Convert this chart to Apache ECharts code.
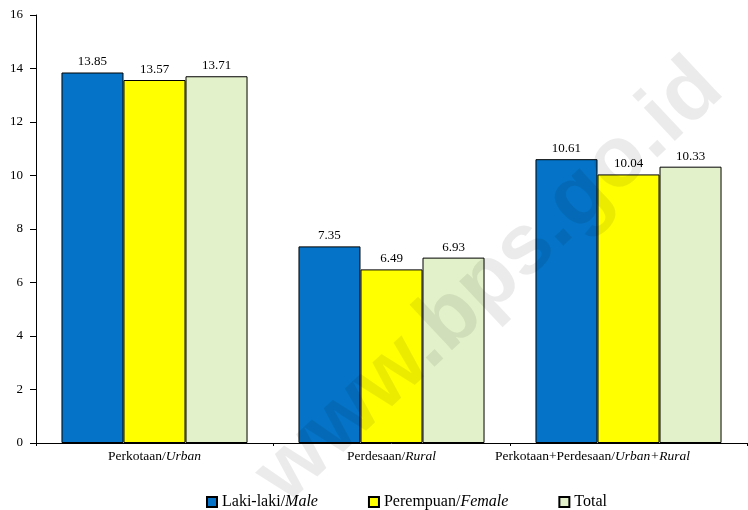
<!DOCTYPE html>
<html><head><meta charset="utf-8">
<script src="https://cdn.jsdelivr.net/npm/echarts@6/dist/echarts.min.js"></script>
<style>html,body{margin:0;padding:0;background:#fff}#c{width:748px;height:510px}</style>
</head><body><div id="c"></div>
<script>
var categories = ['Perkotaan/{i|Urban}', 'Perdesaan/{i|Rural}', 'Perkotaan+Perdesaan/{i|Urban+Rural}'];
var male = [13.85, 7.35, 10.61];
var female = [13.57, 6.49, 10.04];
var total = [13.71, 6.93, 10.33];
var yTicks = [0, 2, 4, 6, 8, 10, 12, 14, 16];

var font = 'Liberation Serif';
var chart = echarts.init(document.getElementById('c'));
function ser(name, data, color) {
  return {
    name: name, type: 'bar', data: data, barGap: '0%', barCategoryGap: '21.5%',
    itemStyle: { color: color, borderColor: '#000', borderWidth: 1 },
    label: { show: true, position: 'top', distance: 4, color: '#000', fontFamily: font, fontSize: 13,
      formatter: function (p) { return p.value.toFixed(2); } }
  };
}
var xData = categories.map(function (c, i) {
  return i === 2 ? { value: c, textStyle: { padding: [0, 72, 0, 0] } } : c;
});
chart.setOption({
  animation: false,
  grid: { left: 36, right: 1, top: 15, bottom: 67 },
  xAxis: {
    type: 'category', data: xData,
    axisLine: { lineStyle: { color: '#000', width: 1 } },
    axisTick: { show: true, length: 3, lineStyle: { color: '#000' } },
    axisLabel: { interval: 0, color: '#000', fontFamily: font, fontSize: 13.5, margin: 6,
      rich: { i: { fontStyle: 'italic', fontFamily: font, fontSize: 13.5, color: '#000' } } }
  },
  yAxis: {
    type: 'value', min: 0, max: 16, interval: 2,
    axisLine: { show: true, lineStyle: { color: '#000', width: 1 } },
    axisTick: { show: true, length: 6, lineStyle: { color: '#000' } },
    splitLine: { show: false },
    axisLabel: { color: '#000', fontFamily: font, fontSize: 13, margin: 13,
      formatter: function (v) { return yTicks.indexOf(v) >= 0 ? String(v) : ''; } }
  },
  legend: {
    top: 489, left: 201, itemWidth: 10, itemHeight: 10, itemGap: 50,
    icon: 'rect',
    textStyle: { fontFamily: font, fontSize: 16, color: '#000',
      rich: { i: { fontStyle: 'italic', fontFamily: font, fontSize: 16, color: '#000' } } },
    formatter: function (n) {
      if (n === 'Laki-laki/Male') return 'Laki-laki/{i|Male}';
      if (n === 'Perempuan/Female') return 'Perempuan/{i|Female}';
      return n;
    }
  },
  series: [
    ser('Laki-laki/Male', male, '#0574C8'),
    ser('Perempuan/Female', female, '#FFFF00'),
    ser('Total', total, '#E2F1C9')
  ],
  graphic: [{
    type: 'text', x: 490, y: 282, rotation: Math.PI * 0.24, silent: true, z: 100,
    style: { text: 'www.bps.go.id', font: 'bold 86px "Liberation Sans"', fill: 'rgba(0,0,0,0.08)',
      textAlign: 'center', textVerticalAlign: 'middle' }
  }]
});
</script></body></html>
